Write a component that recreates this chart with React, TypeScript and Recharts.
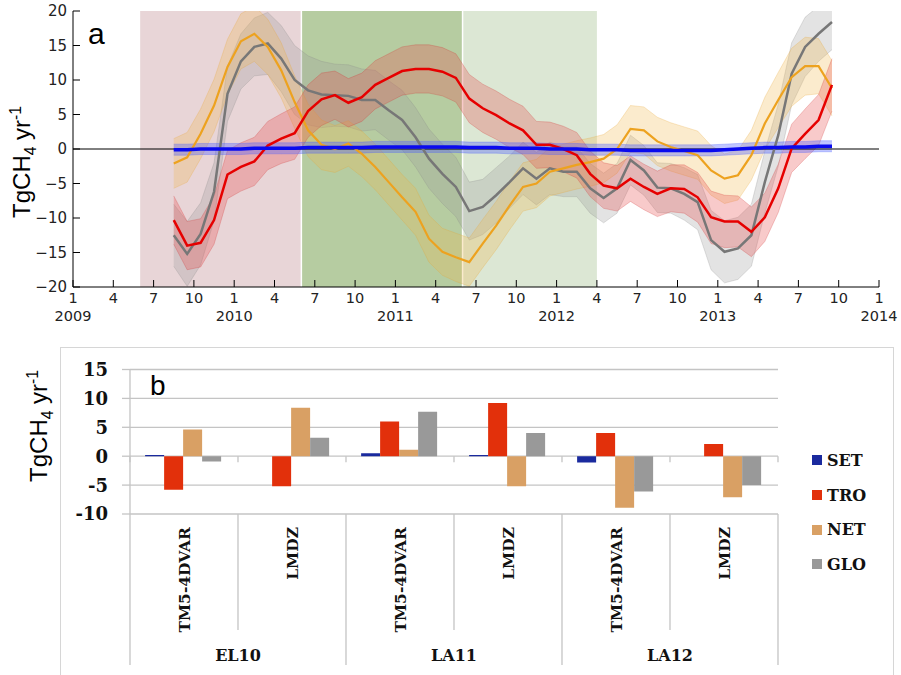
import {
  ComposedChart,
  BarChart,
  Bar,
  Area,
  Line,
  XAxis,
  YAxis,
  ReferenceArea,
  ReferenceLine,
  CartesianGrid,
  Legend,
} from 'recharts'

// ---------- panel a: monthly fluxes (mid-month points) ----------
const START_YEAR = 2009

const months = [
  '2009-08', '2009-09', '2009-10', '2009-11', '2009-12',
  '2010-01', '2010-02', '2010-03', '2010-04', '2010-05', '2010-06',
  '2010-07', '2010-08', '2010-09', '2010-10', '2010-11', '2010-12',
  '2011-01', '2011-02', '2011-03', '2011-04', '2011-05', '2011-06',
  '2011-07', '2011-08', '2011-09', '2011-10', '2011-11', '2011-12',
  '2012-01', '2012-02', '2012-03', '2012-04', '2012-05', '2012-06',
  '2012-07', '2012-08', '2012-09', '2012-10', '2012-11', '2012-12',
  '2013-01', '2013-02', '2013-03', '2013-04', '2013-05', '2013-06',
  '2013-07', '2013-08', '2013-09',
]

const setValues = [
  -0.1, -0.1, 0, 0, 0, 0, 0.1, 0.1, 0.1, 0.1,
  0.2, 0.2, 0.2, 0.2, 0.2, 0.3, 0.3, 0.3, 0.3, 0.3,
  0.3, 0.3, 0.2, 0.2, 0.2, 0.1, 0.1, 0.1, 0, 0,
  0, -0.1, -0.1, -0.1, -0.2, -0.2, -0.2, -0.2, -0.2, -0.2,
  -0.2, -0.1, 0, 0.1, 0.2, 0.2, 0.3, 0.3, 0.4, 0.4,
]
const troValues = [
  -10.3, -14.0, -13.6, -10.3, -3.7, -2.6, -1.8, 0.5, 1.5, 2.3,
  5.5, 7.2, 7.8, 6.7, 7.5, 9.3, 10.3, 11.3, 11.6, 11.6,
  11.2, 10.3, 7.3, 5.9, 4.9, 3.7, 2.7, 0.6, 0.6, 0.0,
  -0.9, -3.6, -5.3, -5.7, -4.3, -5.5, -6.5, -5.7, -5.8, -7.0,
  -9.9, -10.5, -10.5, -12.0, -9.9, -5.7, 0.1, 2.2, 4.2, 9.3,
]
const netValues = [
  -2.1, -1.2, 2.2, 6.3, 11.9, 15.6, 16.7, 14.8, 11.4, 6.8,
  2.7, 0.6, 0.0, 0.8, -0.7, -2.6, -4.8, -7.0, -9.1, -13.0,
  -14.9, -15.7, -16.4, -13.7, -11.1, -8.2, -5.5, -5.0, -3.3, -2.8,
  -2.3, -1.9, -1.4, 0.0, 2.9, 2.7, 1.1, 0.3, -0.3, -0.9,
  -3.1, -4.3, -3.8, -0.9, 3.7, 7.1, 10.4, 12.0, 12.0, 8.8,
]
const gloValues = [
  -12.5, -15.2, -12.3, -6.2, 8.0, 12.7, 14.8, 15.3, 13.1, 10.0,
  8.5, 7.9, 7.8, 7.7, 7.1, 7.1, 5.6, 4.2, 1.7, -1.4,
  -3.6, -5.5, -9.0, -8.4, -6.7, -4.8, -2.8, -4.3, -2.8, -3.3,
  -3.3, -5.7, -7.1, -5.7, -1.6, -3.1, -5.6, -5.7, -6.5, -7.7,
  -13.2, -14.9, -14.4, -12.5, -4.8, 2.0, 10.9, 14.8, 16.7, 18.4,
]

// half-width of the uncertainty bands
const setSpread = 0.8
const troSpread = [
  3.5, 3.5, 3.5, 3.5, 3.5, 3.5, 3.5, 3.5, 3.6, 3.8,
  3.8, 3.8, 3.5, 3.5, 3.5, 3.5, 3.5, 3.5, 3.5, 3.5,
  3.5, 3.5, 3.5, 3.5, 3.5, 3.5, 3.5, 3.4, 3.3, 3.3,
  3.3, 3.3, 3.3, 3.3, 3.3, 3.3, 3.3, 3.4, 3.5, 3.6,
  3.8, 3.8, 3.7, 3.6, 3.5, 3.5, 3.5, 3.6, 3.7, 3.8,
]
const netSpread = [
  3.6, 3.6, 3.6, 3.8, 4.0, 4.0, 4.0, 4.0, 4.0, 3.8,
  3.8, 3.6, 3.4, 3.3, 3.3, 3.3, 3.3, 3.3, 3.4, 3.4,
  3.4, 3.5, 3.5, 3.5, 3.5, 3.5, 3.5, 3.5, 3.5, 3.5,
  3.5, 3.5, 3.5, 3.5, 3.4, 3.4, 3.5, 3.5, 3.5, 3.5,
  3.6, 3.6, 3.6, 3.6, 3.8, 4.0, 4.2, 4.2, 4.0, 4.0,
]
const gloSpread = [
  4.5, 4.7, 4.5, 4.2, 4.0, 4.0, 4.2, 4.5, 4.8, 5.0,
  5.0, 4.8, 4.5, 4.5, 4.5, 4.3, 4.3, 4.3, 4.3, 4.3,
  4.3, 4.3, 4.2, 4.0, 4.0, 3.8, 3.8, 3.8, 3.8, 3.6,
  3.6, 3.6, 3.6, 3.6, 3.6, 3.6, 3.6, 3.6, 3.8, 4.0,
  4.3, 4.5, 4.5, 4.5, 4.5, 4.5, 4.5, 4.3, 4.0, 4.0,
]

const periods = [
  { from: '2009-06', to: '2010-06', fill: '#e8d5d7' },
  { from: '2010-06', to: '2011-06', fill: '#b6cca1' },
  { from: '2011-06', to: '2012-04', fill: '#dce7d4' },
]

const xTicksA = [0, 3, 6, 9, 12, 15, 18, 21, 24, 27, 30, 33, 36, 39, 42, 45, 48, 51, 54, 57, 60]
const yTicksA = [-20, -15, -10, -5, 0, 5, 10, 15, 20]

// ---------- panel b: anomalies per event and model ----------
const models = ['TM5-4DVAR', 'LMDZ', 'TM5-4DVAR', 'LMDZ', 'TM5-4DVAR', 'LMDZ']
const events = ['EL10', 'EL10', 'LA11', 'LA11', 'LA12', 'LA12']
const setBars = [0.2, 0, 0.5, 0.2, -1.1, 0]
const troBars = [-5.8, -5.2, 6.0, 9.2, 4.0, 2.1]
const netBars = [4.6, 8.4, 1.1, -5.2, -8.9, -7.1]
const gloBars = [-0.9, 3.2, 7.7, 4.0, -6.1, -5.0]
const yTicksB = [-10, -5, 0, 5, 10, 15]

const barSeries = [
  { key: 'SET', color: '#1a2a9e' },
  { key: 'TRO', color: '#e2300b' },
  { key: 'NET', color: '#d9a064' },
  { key: 'GLO', color: '#999999' },
]

const monthStart = (s: string) => {
  const [y, m] = s.split('-').map(Number)
  return (y - START_YEAR) * 12 + (m - 1)
}

const rowsA = months.map((m, i) => ({
  t: monthStart(m) + 0.5,
  set: setValues[i],
  tro: troValues[i],
  net: netValues[i],
  glo: gloValues[i],
  setBand: [setValues[i] - setSpread, setValues[i] + setSpread],
  troBand: [troValues[i] - troSpread[i], troValues[i] + troSpread[i]],
  netBand: [netValues[i] - netSpread[i], netValues[i] + netSpread[i]],
  gloBand: [gloValues[i] - gloSpread[i], gloValues[i] + gloSpread[i]],
}))

const rowsB = models.map((model, i) => ({
  model,
  event: events[i],
  SET: setBars[i],
  TRO: troBars[i],
  NET: netBars[i],
  GLO: gloBars[i],
}))

const tickFont = { fontFamily: 'DejaVu Sans', fontSize: 14.5, fill: '#222' }
const serifBold = { fontFamily: 'DejaVu Serif', fontWeight: 700, fill: '#111' }

const minus = (v: number) => (v < 0 ? '\u2212' + Math.abs(v) : String(v))

function MonthTick({ x, y, payload }: any) {
  const t = payload.value as number
  const year = t % 12 === 0 ? START_YEAR + t / 12 : null
  return (
    <g>
      <line x1={x} x2={x} y1={y} y2={y - 7} stroke="#000" />
      <text x={x} y={y + 16} textAnchor="middle" {...tickFont}>
        {(t % 12) + 1}
      </text>
      {year !== null && (
        <text x={x} y={y + 34} textAnchor="middle" {...tickFont}>
          {year}
        </text>
      )}
    </g>
  )
}

const TopTick = ({ x, y }: any) => <line x1={x} x2={x} y1={y} y2={y + 7} stroke="#000" />
const RightTick = ({ x, y }: any) => <line x1={x} x2={x - 7} y1={y} y2={y} stroke="#000" />

function LeftTick({ x, y, payload }: any) {
  return (
    <g>
      <line x1={x} x2={x + 7} y1={y} y2={y} stroke="#000" />
      <text x={x - 6} y={y} dy="0.36em" textAnchor="end" {...tickFont} fontSize={15}>
        {minus(payload.value)}
      </text>
    </g>
  )
}

function TimeSeriesPanel() {
  return (
    <ComposedChart width={901} height={335} data={rowsA} margin={{ top: 11, right: 22, bottom: 0, left: 0 }}>
      {periods.map((p) => (
        <ReferenceArea
          key={p.from}
          x1={monthStart(p.from)}
          x2={monthStart(p.to)}
          y1={-20}
          y2={20}
          fill={p.fill}
          fillOpacity={1}
          stroke="none"
          zIndex={-50}
        />
      ))}
      {periods.slice(1).map((p) => (
        <ReferenceLine key={p.from} x={monthStart(p.from)} stroke="#fff" strokeWidth={1.5} zIndex={-40} />
      ))}
      <XAxis
        type="number"
        dataKey="t"
        domain={[0, 60]}
        ticks={xTicksA}
        interval={0}
        allowDataOverflow
        height={48}
        tickSize={0}
        tickMargin={0}
        tickLine={false}
        axisLine={{ stroke: '#000' }}
        tick={<MonthTick />}
      />
      <XAxis
        xAxisId="top"
        orientation="top"
        type="number"
        dataKey="t"
        domain={[0, 60]}
        ticks={xTicksA}
        interval={0}
        allowDataOverflow
        height={0}
        tickSize={0}
        tickMargin={0}
        tickLine={false}
        axisLine={{ stroke: '#000' }}
        tick={<TopTick />}
      />
      <YAxis
        domain={[-20, 20]}
        ticks={yTicksA}
        interval={0}
        allowDataOverflow
        width={73}
        tickSize={0}
        tickMargin={0}
        tickLine={false}
        axisLine={{ stroke: '#000' }}
        tick={<LeftTick />}
      />
      <YAxis
        yAxisId="right"
        orientation="right"
        domain={[-20, 20]}
        ticks={yTicksA}
        interval={0}
        allowDataOverflow
        width={0}
        tickSize={0}
        tickMargin={0}
        tickLine={false}
        axisLine={{ stroke: '#000' }}
        tick={<RightTick />}
      />
      <ReferenceLine y={0} stroke="#000" strokeWidth={1} />

      <Area dataKey="gloBand" type="linear" fill="#9a9a9a" fillOpacity={0.28} stroke="#888" strokeOpacity={0.25} isAnimationActive={false} activeDot={false} />
      <Area dataKey="netBand" type="linear" fill="#f2b84a" fillOpacity={0.28} stroke="#e8a530" strokeOpacity={0.25} isAnimationActive={false} activeDot={false} />
      <Area dataKey="troBand" type="linear" fill="#e85050" fillOpacity={0.3} stroke="#d03030" strokeOpacity={0.25} isAnimationActive={false} activeDot={false} />
      <Area dataKey="setBand" type="linear" fill="#4a5cff" fillOpacity={0.35} stroke="#4a5cff" strokeOpacity={0.3} isAnimationActive={false} activeDot={false} />

      <Line dataKey="glo" type="linear" stroke="#777" strokeWidth={2.5} dot={false} activeDot={false} isAnimationActive={false} />
      <Line dataKey="net" type="linear" stroke="#eda21f" strokeWidth={2.2} dot={false} activeDot={false} isAnimationActive={false} />
      <Line dataKey="tro" type="linear" stroke="#e60000" strokeWidth={2.5} dot={false} activeDot={false} isAnimationActive={false} />
      <Line dataKey="set" type="linear" stroke="#0a0aee" strokeWidth={3.5} dot={false} activeDot={false} isAnimationActive={false} />
    </ComposedChart>
  )
}

// ---------- panel b ----------
const B_HEIGHT = 335
const B_MARGIN_TOP = 29.5
const B_XAXIS_H = 161
const B_DOMAIN: [number, number] = [-10, 15]

function CategoryTick({ x, y, payload, index }: any) {
  const half = payload.offset ?? 54
  const left = x - half
  const right = x + half
  const plotH = B_HEIGHT - B_MARGIN_TOP - B_XAXIS_H
  const zeroY = y - (plotH * (0 - B_DOMAIN[0])) / (B_DOMAIN[1] - B_DOMAIN[0])
  const groupStart = index % 2 === 0
  const last = index === models.length - 1
  const sep = '#c4c4c4'
  return (
    <g>
      <line x1={left} x2={left} y1={zeroY} y2={zeroY + 6} stroke={sep} strokeWidth={1.3} />
      <line x1={left} x2={left} y1={y} y2={y + (groupStart ? 151 : 116)} stroke={sep} strokeWidth={1.3} />
      {last && (
        <>
          <line x1={right} x2={right} y1={zeroY} y2={zeroY + 6} stroke={sep} strokeWidth={1.3} />
          <line x1={right} x2={right} y1={y} y2={y + 151} stroke={sep} strokeWidth={1.3} />
        </>
      )}
      <text
        x={x}
        y={y + 13}
        dy="0.36em"
        textAnchor="end"
        transform={`rotate(-90, ${x}, ${y + 13})`}
        fontSize={15.5}
        {...serifBold}
      >
        {payload.value}
      </text>
      {groupStart && (
        <text x={right} y={y + 147} textAnchor="middle" fontSize={16} {...serifBold}>
          {events[index]}
        </text>
      )}
    </g>
  )
}

function ValueTick({ x, y, payload }: any) {
  return (
    <g>
      <line x1={x - 8} x2={x} y1={y} y2={y} stroke="#c4c4c4" strokeWidth={1.3} />
      <text x={x - 22} y={y} dy="0.36em" textAnchor="end" fontSize={18} {...serifBold}>
        {payload.value}
      </text>
    </g>
  )
}

function LegendBox() {
  return (
    <div style={{ fontFamily: 'DejaVu Serif', fontWeight: 700, fontSize: 16, color: '#111' }}>
      {barSeries.map((s) => (
        <div key={s.key} style={{ display: 'flex', alignItems: 'center', height: 34.7 }}>
          <span style={{ width: 10, height: 10, background: s.color, marginRight: 5, display: 'inline-block' }} />
          <span>{s.key}</span>
        </div>
      ))}
    </div>
  )
}

function BarPanel() {
  return (
    <BarChart
      width={901}
      height={B_HEIGHT}
      data={rowsB}
      margin={{ top: B_MARGIN_TOP, right: 123, bottom: 0, left: 0 }}
      barCategoryGap="14%"
      barGap={0}
    >
      <CartesianGrid vertical={false} stroke="#c4c4c4" strokeWidth={1.3} />
      <XAxis
        dataKey="model"
        interval={0}
        height={B_XAXIS_H}
        tickSize={0}
        tickMargin={0}
        tickLine={false}
        axisLine={false}
        tick={<CategoryTick />}
      />
      <YAxis
        domain={B_DOMAIN}
        ticks={yTicksB}
        interval={0}
        allowDataOverflow
        width={130}
        tickSize={0}
        tickMargin={0}
        tickLine={false}
        axisLine={{ stroke: '#c4c4c4', strokeWidth: 1.3 }}
        tick={<ValueTick />}
      />
      {barSeries.map((s) => (
        <Bar key={s.key} dataKey={s.key} fill={s.color} isAnimationActive={false} />
      ))}
      <Legend
        layout="vertical"
        align="center"
        verticalAlign="middle"
        wrapperStyle={{ left: 812, top: 103, width: 90 }}
        content={<LegendBox />}
      />
    </BarChart>
  )
}

function AxisTitle({ cx, cy, size }: { cx: number; cy: number; size: number }) {
  return (
    <text
      x={cx}
      y={cy}
      dy="0.35em"
      textAnchor="middle"
      transform={`rotate(-90, ${cx}, ${cy})`}
      fontFamily="Liberation Sans"
      fontSize={size}
      fill="#000"
    >
      TgCH
      <tspan fontSize={size * 0.65} dy={size * 0.25}>4</tspan>
      <tspan dy={-size * 0.25}> yr</tspan>
      <tspan fontSize={size * 0.65} dy={-size * 0.4}>-1</tspan>
    </text>
  )
}

export default function App() {
  return (
    <div style={{ position: 'absolute', left: 0, top: 0, width: 901, height: 675, background: '#fff', overflow: 'hidden' }}>
      <div style={{ position: 'absolute', left: 0, top: 0 }}>
        <TimeSeriesPanel />
      </div>
      <div
        style={{
          position: 'absolute',
          left: 60,
          top: 347,
          width: 834,
          height: 340,
          border: '1.5px solid #d6d6d6',
          boxSizing: 'border-box',
        }}
      />
      <div style={{ position: 'absolute', left: 0, top: 340 }}>
        <BarPanel />
      </div>
      <svg width={901} height={675} style={{ position: 'absolute', left: 0, top: 0, pointerEvents: 'none' }}>
        <AxisTitle cx={22} cy={162} size={24} />
        <AxisTitle cx={39} cy={426} size={24} />
        <text x={88} y={44} fontFamily="Liberation Sans" fontSize={30} fill="#000">a</text>
        <text x={150} y={395} fontFamily="Liberation Sans" fontSize={28} fill="#000">b</text>
      </svg>
    </div>
  )
}
